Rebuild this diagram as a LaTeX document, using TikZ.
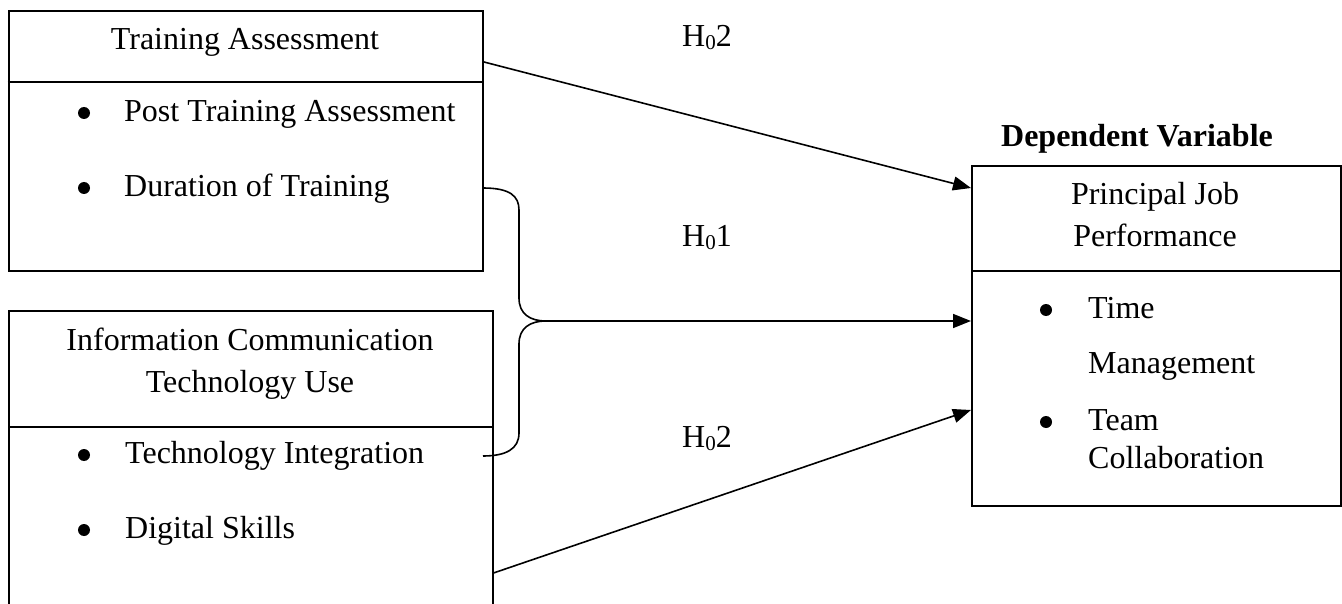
\documentclass[tikz,border=0pt]{standalone}
\usepackage{fontspec}
\setmainfont{Liberation Serif}
\usetikzlibrary{arrows.meta,calc}
\newcommand{\hsub}[1]{H\raisebox{-3pt}{\fontsize{21}{21}\selectfont 0}#1}
\begin{document}
\begin{tikzpicture}[x=1pt,y=-1pt,
  every node/.style={font=\fontsize{32}{38}\selectfont},
  box/.style={draw,line width=2pt,inner sep=0pt,anchor=north west},
  divider/.style={line width=2pt},
  txt/.style={inner sep=0pt,anchor=base},
  txtl/.style={inner sep=0pt,anchor=base west},
  blt/.style={circle,fill=black,inner sep=0pt,minimum size=12pt},
  conn/.style={line width=1.6pt,-{Triangle[length=18pt,width=14pt]}},
  bracel/.style={line width=1.6pt}]
\useasboundingbox (0,0) rectangle (1342,604);
\clip (0,0) rectangle (1342,604);
% boxes
\node[box,minimum width=474.5pt,minimum height=260pt] (ta) at (7.5,10) {};
\node[box,minimum width=483.5pt,minimum height=320pt] (ict) at (8,310) {};
\node[box,minimum width=369pt,minimum height=340pt] (jp) at (971,165) {};
% dividers
\coordinate (taL) at (7.5,82); \coordinate (taR) at (482,82);
\draw[divider] (taL) -- (taR);
\coordinate (ictL) at (8,427); \coordinate (ictR) at (491.5,427);
\draw[divider] (ictL) -- (ictR);
\coordinate (jpL) at (971,271); \coordinate (jpR) at (1340,271);
\draw[divider] (jpL) -- (jpR);
% texts box 1
\node[txt] (t1) at (245,50) {Training Assessment};
\node[blt] (b11) at (84,113) {};
\node[txtl] (t11) at (124,122) {Post Training Assessment};
\node[blt] (b12) at (84,188) {};
\node[txtl] (t12) at (124,197) {Duration of Training};
% texts box 2
\node[txt] (t2a) at (250,350) {Information Communication};
\node[txt] (t2b) at (250,392) {Technology Use};
\node[blt] (b21) at (84,455) {};
\node[txtl] (t21) at (125,463) {Technology Integration};
\node[blt] (b22) at (84,530) {};
\node[txtl] (t22) at (125,538) {Digital Skills};
% texts box 3
\node[txt] (dv) at (1137,147) {\bfseries Dependent Variable};
\node[txt] (t3a) at (1155,205) {Principal Job};
\node[txt] (t3b) at (1155,247) {Performance};
\node[blt] (b31) at (1046,310) {};
\node[txtl] (t31) at (1088,318) {Time};
\node[txtl] (t32) at (1088,373) {Management};
\node[blt] (b32) at (1046,422) {};
\node[txtl] (t33) at (1088,430) {Team};
\node[txtl] (t34) at (1088,468) {Collaboration};
% hypothesis labels
\node[txtl] (h1) at (682,47) {\hsub{2}};
\node[txtl] (h2) at (682,247) {\hsub{1}};
\node[txtl] (h3) at (682,447) {\hsub{2}};
% connectors
\coordinate (a1s) at ($(ta.north east)+(0,52)$);
\coordinate (a1e) at ($(jp.north west)+(0,23)$);
\draw[conn] (a1s) -- (a1e);
\coordinate (a3s) at ($(ict.north east)+(0,263)$);
\coordinate (a3e) at ($(jp.north west)+(0,245)$);
\draw[conn] (a3s) -- (a3e);
% brace
\coordinate (br1) at (483,188);
\coordinate (br2) at (483,456);
\coordinate (tip) at (546,321);
\coordinate (a2e) at ($(jp.north west)+(0,156)$);
\draw[bracel] (br1) .. controls (510,188) and (519,196) .. (519,210)
   -- (519,298) .. controls (519,314) and (530,321) .. (tip);
\draw[bracel] (tip) .. controls (530,321) and (519,328) .. (519,344)
   -- (519,433) .. controls (519,449) and (506,456) .. (br2);
\draw[conn] (tip) -- (a2e);
\end{tikzpicture}
\end{document}
